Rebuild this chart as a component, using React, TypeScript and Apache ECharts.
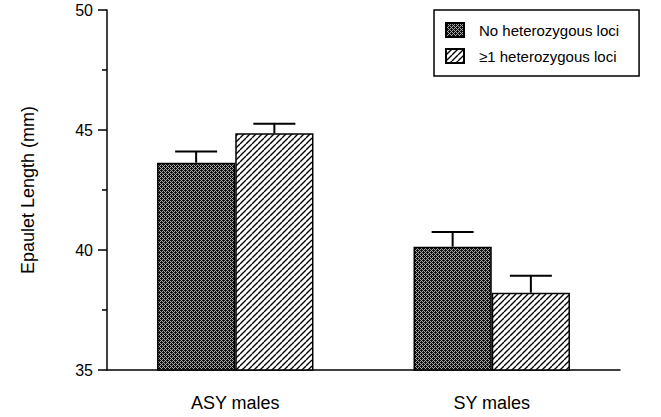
import React, { useEffect, useRef } from "react";
import * as echarts from "echarts";

const categories = ["ASY males", "SY males"];
const seriesNames = ["No heterozygous loci", "≥1 heterozygous loci"];
const noHetMeans = [43.64, 40.14];
const noHetUpper = [44.1, 40.75];
const hetMeans = [44.86, 38.22];
const hetUpper = [45.26, 38.93];
const yMin = 35;
const yMax = 50;

function makeDarkPattern(): HTMLCanvasElement {
  const c = document.createElement("canvas");
  c.width = 4;
  c.height = 4;
  const ctx = c.getContext("2d")!;
  ctx.fillStyle = "#a8a8a8";
  ctx.fillRect(0, 0, 4, 4);
  ctx.fillStyle = "#111111";
  for (let y = 0; y < 4; y++) {
    for (let x = 0; x < 4; x++) {
      if ((x + y) % 2 === 0 || (x === 1 && y === 2) || (x === 3 && y === 0)) {
        ctx.fillRect(x, y, 1, 1);
      }
    }
  }
  return c;
}

function makeHatchPattern(): HTMLCanvasElement {
  const s = 6;
  const c = document.createElement("canvas");
  c.width = s;
  c.height = s;
  const ctx = c.getContext("2d")!;
  ctx.fillStyle = "#ffffff";
  ctx.fillRect(0, 0, s, s);
  ctx.strokeStyle = "#000000";
  ctx.lineWidth = 1.4;
  ctx.beginPath();
  for (const off of [-s, 0, s]) {
    ctx.moveTo(off, s);
    ctx.lineTo(off + s, 0);
  }
  ctx.stroke();
  return c;
}

export default function App() {
  const ref = useRef<HTMLDivElement>(null);
  useEffect(() => {
    document.body.style.margin = "0";
    if (!ref.current) return;
    const chart = echarts.init(ref.current, null, { renderer: "svg" });
    const dark = { image: makeDarkPattern(), repeat: "repeat" };
    const hatch = { image: makeHatchPattern(), repeat: "repeat" };
    const gapRatio = 0.39;
    const errData: number[][] = [];
    categories.forEach((_, i) => {
      errData.push([i, noHetMeans[i], noHetUpper[i], 0]);
      errData.push([i, hetMeans[i], hetUpper[i], 1]);
    });
    const font = "Liberation Sans, Arial, sans-serif";
    chart.setOption({
      animation: false,
      textStyle: { fontFamily: font, color: "#000" },
      grid: { left: 107, right: 41, top: 10, bottom: 47 },
      legend: {
        orient: "vertical",
        left: 434,
        top: 10,
        width: 217,
        icon: "rect",
        itemWidth: 18,
        itemHeight: 14,
        itemGap: 10,
        padding: [12, 20, 12, 11],
        borderColor: "#000",
        borderWidth: 1.5,
        textStyle: { fontSize: 15, color: "#000", fontFamily: font, padding: [0, 0, 0, 10] },
        data: seriesNames,
      },
      xAxis: {
        type: "category",
        data: categories,
        axisLine: { lineStyle: { color: "#000", width: 1.5 } },
        axisTick: { length: 4, lineStyle: { color: "#000", width: 1.5 } },
        axisLabel: { fontSize: 18, color: "#000", margin: 24, fontFamily: font },
      },
      yAxis: {
        type: "value",
        min: yMin,
        max: yMax,
        interval: 5,
        name: "Epaulet Length (mm)",
        nameLocation: "middle",
        nameGap: 70,
        nameTextStyle: { fontSize: 18, color: "#000", fontFamily: font },
        axisLine: { show: true, lineStyle: { color: "#000", width: 1.5 } },
        axisTick: { show: true, length: 9, lineStyle: { color: "#000", width: 1.5 } },
        minorTick: { show: true, splitNumber: 2, length: 5, lineStyle: { color: "#000", width: 1.5 } },
        splitLine: { show: false },
        axisLabel: { fontSize: 16, color: "#000", margin: 14, fontFamily: font },
      },
      series: [
        {
          name: seriesNames[0],
          type: "bar",
          data: noHetMeans,
          barGap: "0%",
          barCategoryGap: "39%",
          itemStyle: { color: dark, borderColor: "#000", borderWidth: 1.5 },
        },
        {
          name: seriesNames[1],
          type: "bar",
          data: hetMeans,
          barGap: "0%",
          barCategoryGap: "39%",
          itemStyle: { color: hatch, borderColor: "#000", borderWidth: 1.5 },
        },
        {
          type: "custom",
          z: 5,
          data: errData,
          renderItem: (params: any, api: any) => {
            const cat = api.value(0);
            const mean = api.value(1);
            const up = api.value(2);
            const which = api.value(3);
            const band = api.size([1, 0])[0];
            const barW = (band * (1 - gapRatio)) / 2;
            const base = api.coord([cat, mean]);
            const top = api.coord([cat, up]);
            const x = base[0] + (which === 0 ? -barW / 2 : barW / 2);
            const capHalf = 21;
            const style = { stroke: "#000", lineWidth: 2 };
            return {
              type: "group",
              children: [
                { type: "line", shape: { x1: x, y1: base[1], x2: x, y2: top[1] }, style },
                { type: "line", shape: { x1: x - capHalf, y1: top[1], x2: x + capHalf, y2: top[1] }, style },
              ],
            };
          },
        },
      ],
    });
    return () => chart.dispose();
  }, []);
  return <div ref={ref} style={{ width: 661, height: 417 }} />;
}
